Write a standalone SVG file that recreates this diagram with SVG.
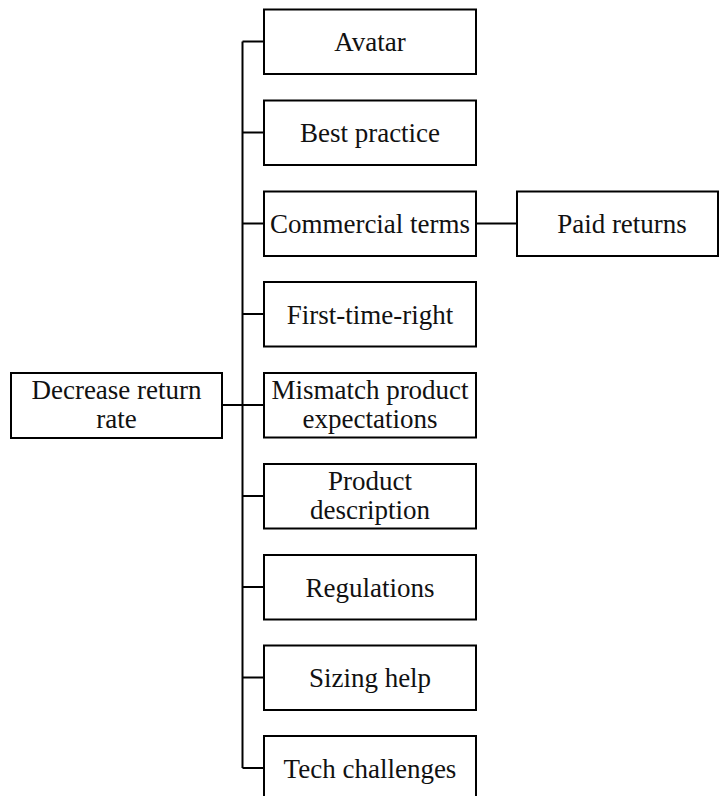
<svg xmlns="http://www.w3.org/2000/svg" width="720" height="796" viewBox="0 0 720 796">
  <style>
    .box { fill: #ffffff; stroke: #000000; stroke-width: 2; }
    .lbl { font-family: "Liberation Serif", "Times New Roman", serif; font-size: 27px; fill: #111111; text-anchor: middle; }
    .link { fill: none; stroke: #000000; stroke-width: 2; }
  </style>
  <rect width="720" height="796" fill="#ffffff"/>

  <!-- tree connectors -->
  <g id="connectors">
    <line class="link" x1="242.5" y1="41.5" x2="242.5" y2="768"/>
    <line class="link" x1="222" y1="405" x2="242.5" y2="405"/>
    <line class="link" x1="242.5" y1="41.5" x2="264" y2="41.5"/>
    <line class="link" x1="242.5" y1="132.5" x2="264" y2="132.5"/>
    <line class="link" x1="242.5" y1="223.5" x2="264" y2="223.5"/>
    <line class="link" x1="242.5" y1="314" x2="264" y2="314"/>
    <line class="link" x1="242.5" y1="405" x2="264" y2="405"/>
    <line class="link" x1="242.5" y1="496" x2="264" y2="496"/>
    <line class="link" x1="242.5" y1="587" x2="264" y2="587"/>
    <line class="link" x1="242.5" y1="677.5" x2="264" y2="677.5"/>
    <line class="link" x1="242.5" y1="768" x2="264" y2="768"/>
    <line class="link" x1="476" y1="223.5" x2="517" y2="223.5"/>
  </g>

  <g id="root">
    <rect class="box" x="11" y="373" width="211" height="65"/>
    <text class="lbl" x="116.5" y="399">Decrease return</text>
    <text class="lbl" x="116.5" y="428">rate</text>
  </g>

  <g id="avatar">
    <rect class="box" x="264" y="9.5" width="212" height="64.5"/>
    <text class="lbl" x="370" y="51">Avatar</text>
  </g>

  <g id="best-practice">
    <rect class="box" x="264" y="100.5" width="212" height="64.5"/>
    <text class="lbl" x="370" y="142">Best practice</text>
  </g>

  <g id="commercial-terms">
    <rect class="box" x="264" y="191.5" width="212" height="64.5"/>
    <text class="lbl" x="370" y="233">Commercial terms</text>
  </g>

  <g id="paid-returns">
    <rect class="box" x="517" y="191.5" width="201" height="64.5"/>
    <text class="lbl" x="622" y="233">Paid returns</text>
  </g>

  <g id="first-time-right">
    <rect class="box" x="264" y="282" width="212" height="64.5"/>
    <text class="lbl" x="370" y="323.5">First-time-right</text>
  </g>

  <g id="mismatch">
    <rect class="box" x="264" y="373" width="212" height="64.5"/>
    <text class="lbl" x="370" y="399">Mismatch product</text>
    <text class="lbl" x="370" y="428">expectations</text>
  </g>

  <g id="product-description">
    <rect class="box" x="264" y="464" width="212" height="64.5"/>
    <text class="lbl" x="370" y="490">Product</text>
    <text class="lbl" x="370" y="519">description</text>
  </g>

  <g id="regulations">
    <rect class="box" x="264" y="555" width="212" height="64.5"/>
    <text class="lbl" x="370" y="596.5">Regulations</text>
  </g>

  <g id="sizing-help">
    <rect class="box" x="264" y="645.5" width="212" height="64.5"/>
    <text class="lbl" x="370" y="687">Sizing help</text>
  </g>

  <g id="tech-challenges">
    <rect class="box" x="264" y="736" width="212" height="64.5"/>
    <text class="lbl" x="370" y="777.5">Tech challenges</text>
  </g>
</svg>
